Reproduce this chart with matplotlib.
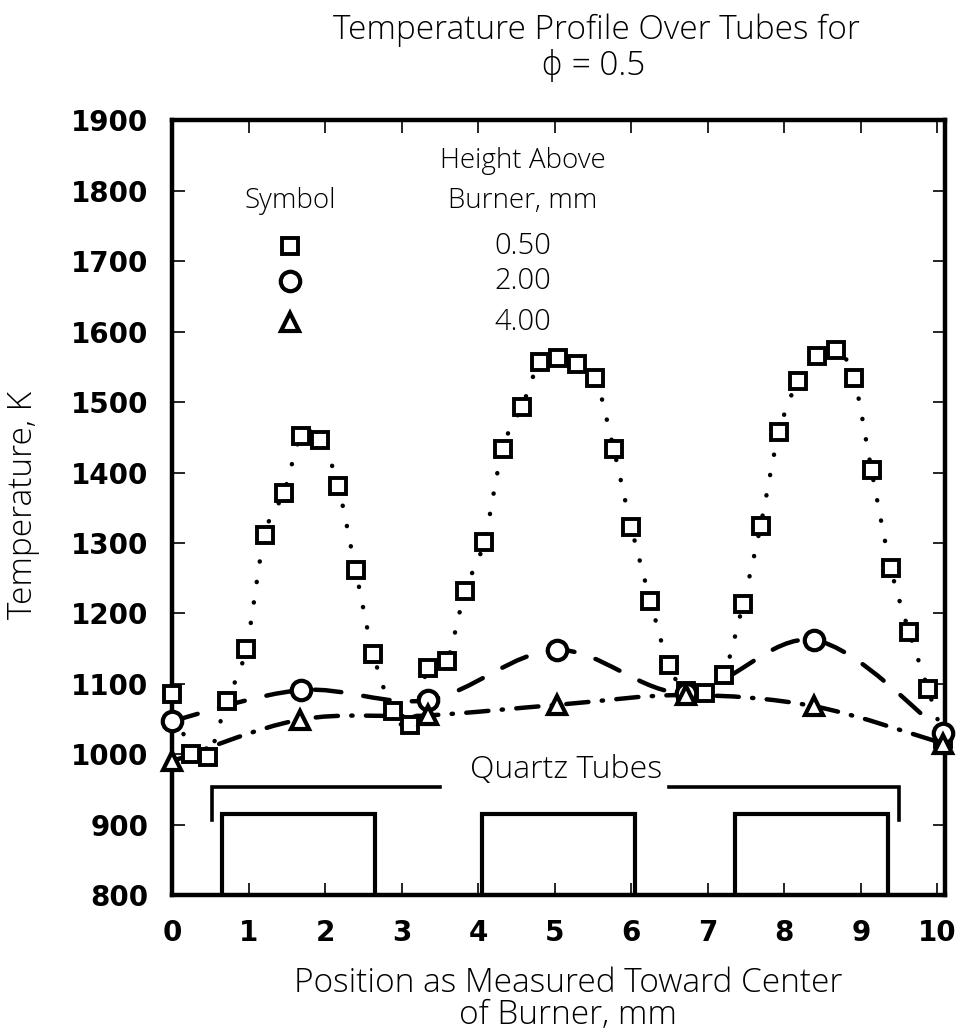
import numpy as np
import matplotlib
matplotlib.use("Agg")
import matplotlib.pyplot as plt
from matplotlib.path import Path
from matplotlib.patches import PathPatch

# ---------------- data ----------------
sq_x = [0.00, 0.25, 0.47, 0.72, 0.97, 1.21, 1.46, 1.69, 1.94, 2.17, 2.40, 2.63, 2.89, 3.11,
        3.35, 3.59, 3.83, 4.08, 4.32, 4.57, 4.81, 5.05, 5.29, 5.53, 5.77, 6.00, 6.25, 6.49,
        6.71, 6.97, 7.21, 7.46, 7.69, 7.93, 8.18, 8.43, 8.68, 8.91, 9.14, 9.39, 9.63, 9.88, 10.08]
sq_y = [1085, 1000, 996, 1076, 1150, 1311, 1371, 1452, 1446, 1381, 1261, 1142, 1061, 1041,
        1122, 1132, 1232, 1302, 1434, 1493, 1557, 1563, 1554, 1534, 1434, 1323, 1218, 1127,
        1090, 1087, 1113, 1213, 1324, 1457, 1530, 1565, 1574, 1534, 1403, 1265, 1174, 1092, 1022]

ci_x = [0.00, 1.69, 3.35, 5.03, 6.71, 8.39, 10.08]
ci_y = [1047, 1091, 1077, 1148, 1087, 1162, 1030]

tr_x = [0.00, 1.67, 3.35, 5.03, 6.71, 8.39, 10.08]
tr_y = [990, 1049, 1055, 1070, 1084, 1068, 1015]

heights = ["0.50", "2.00", "4.00"]

tube_left = [0.65, 4.05, 7.35]
tube_right = [2.65, 6.05, 9.35]
tube_top = 915
bracket_x = [[0.52, 3.50], [6.50, 9.50]]
bracket_y = 954
bracket_drop = 907

xticks = list(range(0, 11))
yticks = list(range(800, 2000, 100))

LIGHT = ['Open Sans', 'DejaVu Sans']


def smooth_patch(ax, xs, ys, **kw):
    P = np.column_stack([xs, ys]).astype(float)
    n = len(P)
    verts = [P[0]]
    codes = [Path.MOVETO]
    for i in range(n - 1):
        p0 = P[i - 1] if i > 0 else P[i]
        p1 = P[i]
        p2 = P[i + 1]
        p3 = P[i + 2] if i + 2 < n else P[i + 1]
        c1 = p1 + (p2 - p0) / 6.0
        c2 = p2 - (p3 - p1) / 6.0
        verts += [c1, c2, p2]
        codes += [Path.CURVE4] * 3
    patch = PathPatch(Path(verts, codes), fill=False, transform=ax.transData,
                      clip_on=False, **kw)
    ax.add_patch(patch)
    return patch


fig = plt.figure(figsize=(9.56, 10.35), dpi=100)
ax = fig.add_axes([0.1799, 0.1353, 0.8086, 0.7483])
ax.set_xlim(0, 10.1)
ax.set_ylim(800, 1900)

for s in ax.spines.values():
    s.set_linewidth(3.2)
ax.set_xticks(xticks)
ax.set_yticks(yticks)
ax.tick_params(direction='in', length=9, width=1.2, top=True, right=True,
               labelsize=20, pad=17)
for lab in ax.get_xticklabels() + ax.get_yticklabels():
    lab.set_fontweight('bold')
    lab.set_family('DejaVu Sans')

# curves
p = smooth_patch(ax, sq_x, sq_y, lw=3.2, edgecolor='black', linestyle=(0, (0.05, 4.6)), zorder=2)
p.set_capstyle('round')
p = smooth_patch(ax, ci_x, ci_y, lw=3.2, edgecolor='black', linestyle=(0, (6, 5)), zorder=2)
p.set_capstyle('round')
p = smooth_patch(ax, tr_x, tr_y, lw=3.2, edgecolor='black', linestyle=(0, (5, 3, 0.3, 3)), zorder=2)
p.set_capstyle('round')

mk = dict(linestyle='none', mfc='white', mec='black', clip_on=False, zorder=3)
ax.plot(sq_x, sq_y, marker='s', ms=12, mew=2.8, **mk)
ax.plot(ci_x, ci_y, marker='o', ms=14, mew=3.0, **mk)
ax.plot(tr_x, tr_y, marker='^', ms=13, mew=3.0, **mk)

# legend (drawn by hand, like the original)
ax.plot([1.54], [1722], marker='s', ms=12, mew=2.8, **mk)
ax.plot([1.54], [1672], marker='o', ms=14, mew=3.0, **mk)
ax.plot([1.54], [1614], marker='^', ms=13, mew=3.0, **mk)
for val, yy in zip(heights, [1722, 1672, 1614]):
    ax.text(4.58, yy, val, ha='center', va='center', fontsize=21, family=LIGHT, fontweight='light')
ax.text(4.58, 1842, "Height Above", ha='center', va='center', fontsize=20, family=LIGHT, fontweight='light')
ax.text(4.58, 1785, "Burner, mm", ha='center', va='center', fontsize=20, family=LIGHT, fontweight='light')
ax.text(1.54, 1785, "Symbol", ha='center', va='center', fontsize=20, family=LIGHT, fontweight='light')

# quartz tubes
for l, r in zip(tube_left, tube_right):
    ax.plot([l, l, r, r], [800, tube_top, tube_top, 800], color='black', lw=3, zorder=2,
            solid_joinstyle='miter')
ax.plot([bracket_x[0][0], bracket_x[0][0], bracket_x[0][1]],
        [bracket_drop, bracket_y, bracket_y], color='black', lw=2.6, solid_joinstyle='miter')
ax.plot([bracket_x[1][0], bracket_x[1][1], bracket_x[1][1]],
        [bracket_y, bracket_y, bracket_drop], color='black', lw=2.6, solid_joinstyle='miter')
ax.text(5.15, 978, "Quartz Tubes", ha='center', va='center', fontsize=23, family=LIGHT, fontweight='light')

# titles & labels
fig.text(596 / 956, 1 - 30 / 1035, "Temperature Profile Over Tubes for", ha='center', va='center',
         fontsize=24, family=LIGHT, fontweight='light')
fig.text(593 / 956, 1 - 66 / 1035, "\u03d5 = 0.5", ha='center', va='center',
         fontsize=24, family=LIGHT, fontweight='light')
fig.text(23 / 956, 1 - 505 / 1035, "Temperature, K", rotation=90, ha='center', va='center',
         fontsize=24, family=LIGHT, fontweight='light')
fig.text(568 / 956, 1 - 983 / 1035, "Position as Measured Toward Center", ha='center', va='center',
         fontsize=24, family=LIGHT, fontweight='light')
fig.text(568 / 956, 1 - 1015 / 1035, "of Burner, mm", ha='center', va='center',
         fontsize=24, family=LIGHT, fontweight='light')

fig.savefig("out.png", dpi=100)
